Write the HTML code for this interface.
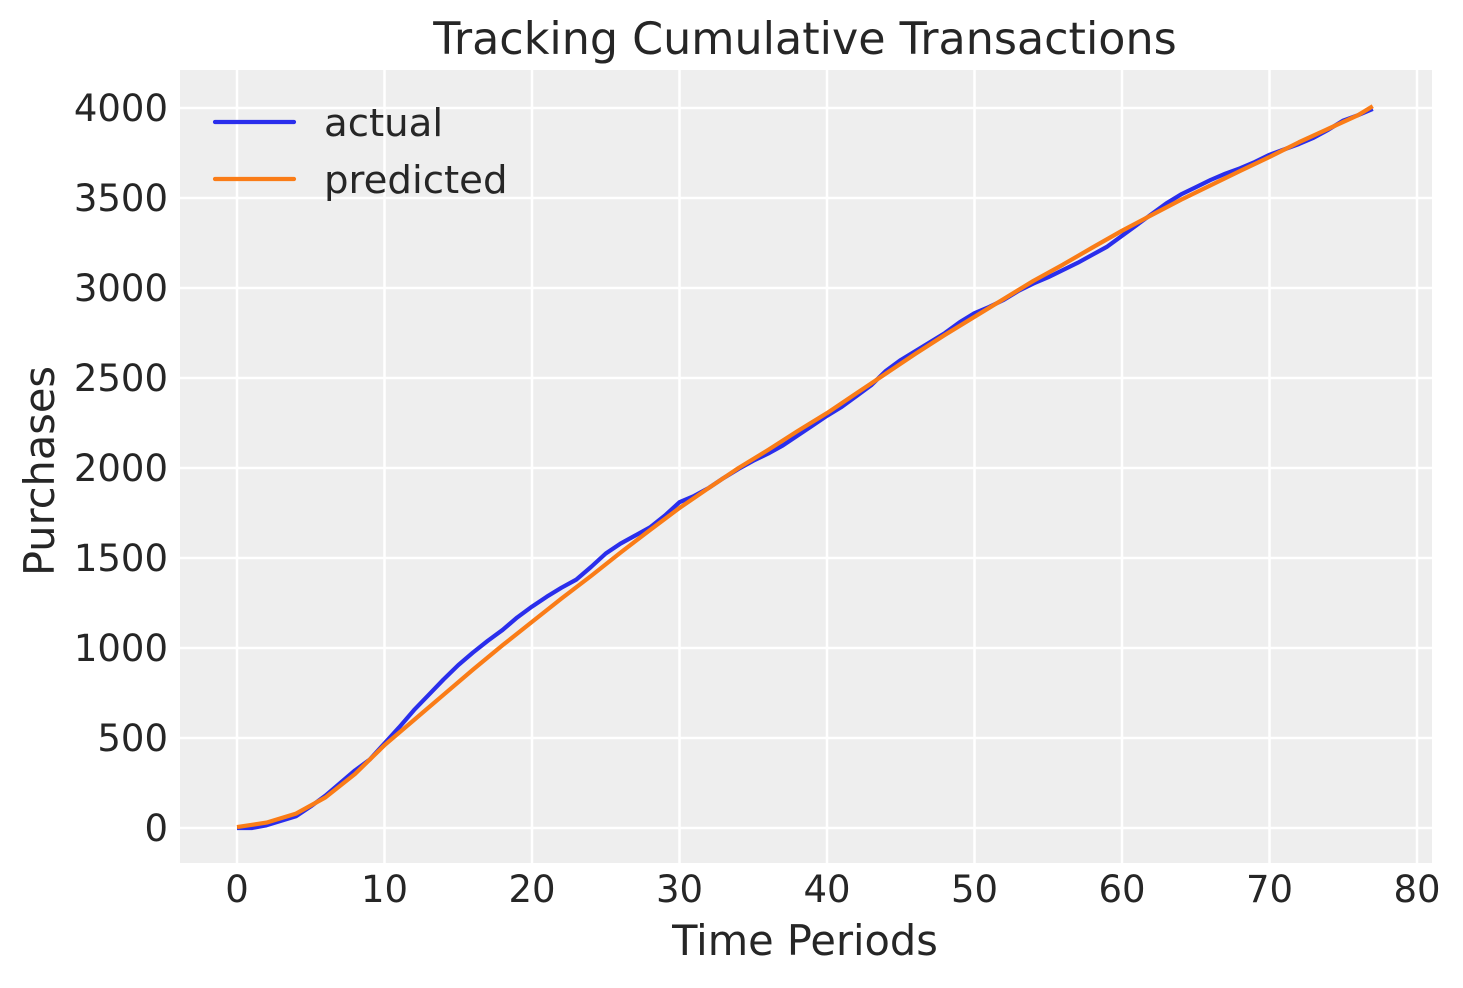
<!DOCTYPE html>
<html><head><meta charset="utf-8"><style>
body{margin:0;background:#fff;}
svg text{font-family:"DejaVu Sans","Liberation Sans",sans-serif;fill:#262626;}
</style></head><body>
<svg id="s" width="1463" height="983" xmlns="http://www.w3.org/2000/svg">
<rect x="180" y="70" width="1252" height="793" fill="#eeeeee"/>
<g id="grid" stroke="#fff" stroke-width="2.5"></g>
<g id="lab" font-size="37"></g>
<text x="805" y="54" font-size="44.4" text-anchor="middle">Tracking Cumulative Transactions</text>
<text x="805" y="955" font-size="41.5" text-anchor="middle">Time Periods</text>
<text transform="translate(54,471) rotate(-90)" font-size="41.5" text-anchor="middle">Purchases</text>
<polyline id="a" fill="none" stroke="#2a2eec" stroke-width="4.2" stroke-linejoin="round"/>
<polyline id="p" fill="none" stroke="#fa7c17" stroke-width="4.2" stroke-linejoin="round"/>
<line x1="215" y1="122" x2="294" y2="122" stroke="#2a2eec" stroke-width="4.2" stroke-linecap="round"/>
<line x1="215" y1="179" x2="294" y2="179" stroke="#fa7c17" stroke-width="4.2" stroke-linecap="round"/>
<text x="324" y="136" font-size="38.7">actual</text>
<text x="324" y="193" font-size="38.7">predicted</text>
</svg>
<script>
var X=t=>237+t*14.75, Y=v=>828-v*0.18;
var g=document.getElementById('grid'),l=document.getElementById('lab'),ns='http://www.w3.org/2000/svg';
function el(p,n,a,t){var e=document.createElementNS(ns,n);for(var k in a)e.setAttribute(k,a[k]);if(t!=null)e.textContent=t;p.appendChild(e);}
for(var t=0;t<=80;t+=10){el(g,'line',{x1:X(t),x2:X(t),y1:70,y2:863});el(l,'text',{x:X(t),y:902,'text-anchor':'middle'},t);}
for(var v=0;v<=4000;v+=500){el(g,'line',{x1:180,x2:1432,y1:Y(v),y2:Y(v)});el(l,'text',{x:168,y:Y(v)+13,'text-anchor':'end'},v);}
var A=[0,0,15,40,65,120,180,250,320,380,470,560,655,740,825,905,975,1040,1100,1170,1230,1285,1335,1380,1450,1525,1580,1625,1670,1735,1810,1845,1890,1945,1995,2040,2080,2125,2180,2235,2290,2340,2400,2460,2540,2600,2650,2700,2750,2810,2860,2895,2935,2985,3025,3060,3100,3140,3185,3230,3290,3350,3410,3470,3520,3560,3600,3635,3665,3700,3740,3770,3800,3835,3880,3930,3960,3995];
document.getElementById('a').setAttribute('points',A.map((v,i)=>X(i)+','+Y(v)).join(' '));
var P=[[0,5],[2,30],[4,80],[6,170],[8,300],[10,460],[12,600],[14,740],[16,880],[18,1015],[20,1145],[22,1275],[24,1400],[26,1530],[28,1655],[30,1778],[32,1890],[34,2000],[36,2100],[38,2205],[40,2305],[42,2415],[44,2525],[46,2635],[48,2740],[50,2840],[52,2940],[54,3040],[56,3130],[58,3225],[60,3318],[62,3405],[64,3490],[66,3570],[68,3650],[70,3728],[72,3810],[74,3885],[76,3960],[77,4010]];
document.getElementById('p').setAttribute('points',P.map(p=>X(p[0])+','+Y(p[1])).join(' '));
</script>
</body></html>
